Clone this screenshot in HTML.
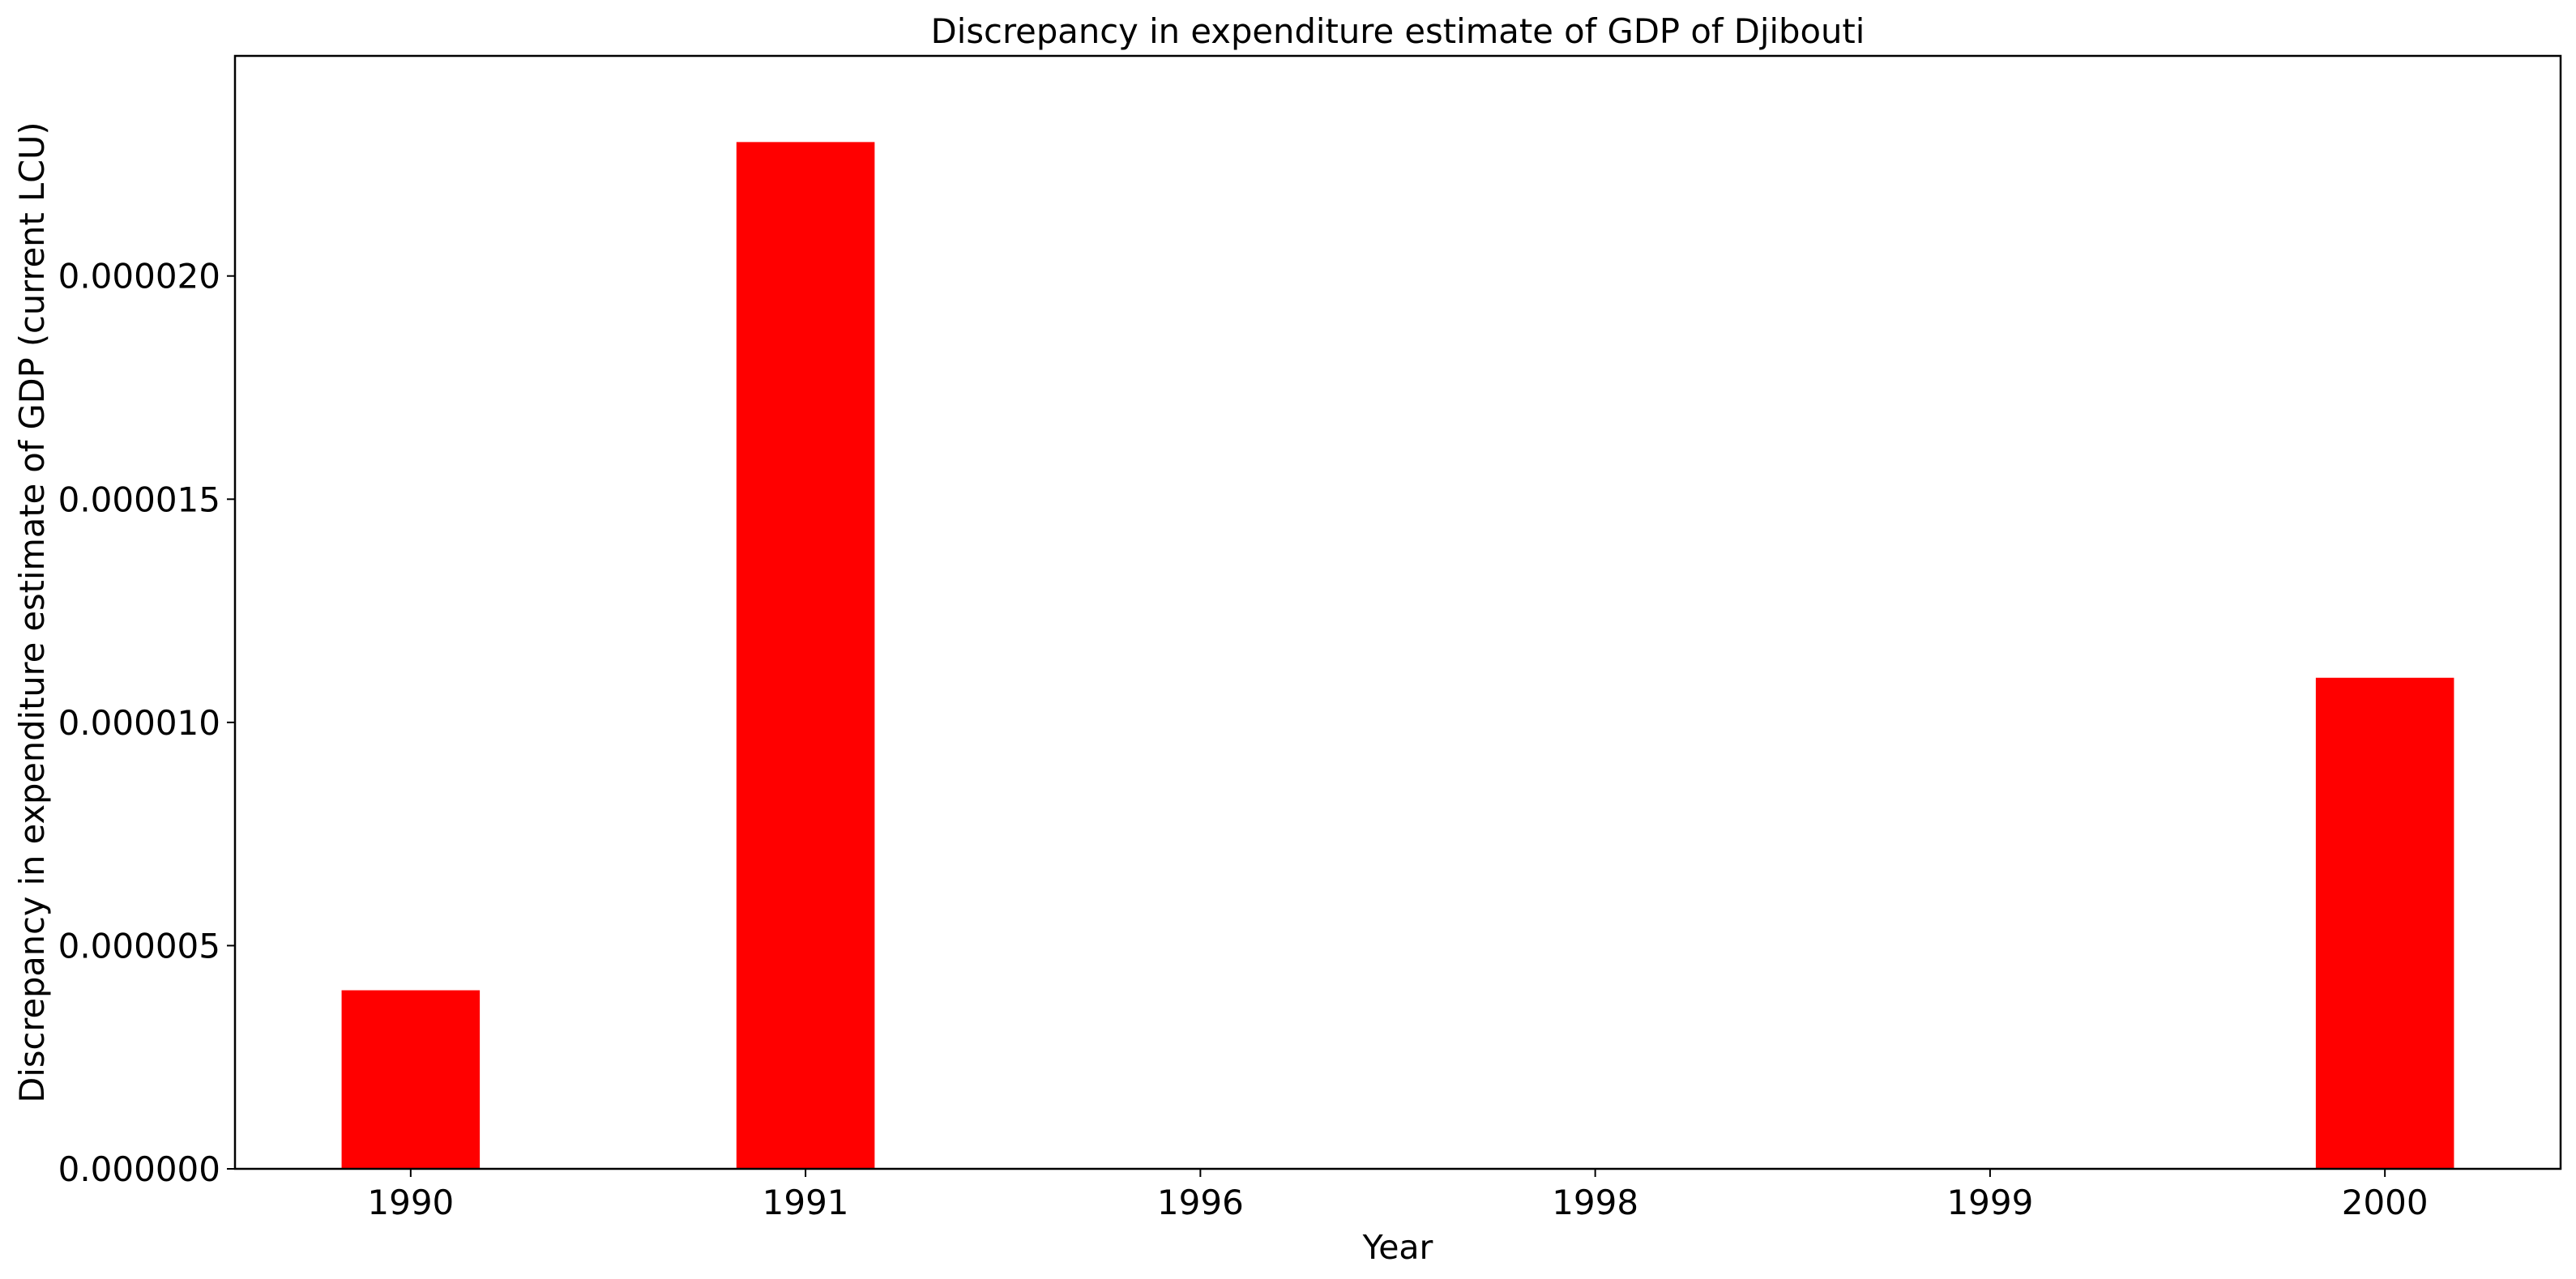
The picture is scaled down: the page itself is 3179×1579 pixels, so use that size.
<!DOCTYPE html>
<html><head><meta charset="utf-8"><style>
html,body{margin:0;padding:0;background:#fff;}
svg{display:block;font-family:"DejaVu Sans","Liberation Sans",sans-serif;}
</style></head><body>
<svg id="chart" width="3179" height="1579" viewBox="0 0 3179 1579">
<rect x="0" y="0" width="3179" height="1579" fill="#fff"/>
<text x="1725" y="53" font-size="41.7" text-anchor="middle">Discrepancy in expenditure estimate of GDP of Djibouti</text>
<g id="bars"></g>
<g id="yticks"></g>
<g id="xticks"></g>
<rect x="290" y="69" width="2870" height="1374" fill="none" stroke="#000" stroke-width="2.5"/>
<text x="1725" y="1554" font-size="41" text-anchor="middle">Year</text>
<text transform="translate(54,756) rotate(-90)" font-size="41.5" text-anchor="middle">Discrepancy in expenditure estimate of GDP (current LCU)</text>
</svg>
<script>
const categories = ["1990","1991","1996","1998","1999","2000"];
const values = [4e-6, 23e-6, 0, 0, 0, 11e-6];
const yTickValues = [0, 5e-6, 10e-6, 15e-6, 20e-6];
const yTickLabels = ["0.000000","0.000005","0.000010","0.000015","0.000020"];

const NS = "http://www.w3.org/2000/svg";
const L = 290, R = 3160, T = 69, B = 1443;
const xMin = -0.445, xMax = categories.length - 1 + 0.445;
const yMin = 0, yMax = 24.93e-6;
const barW = 0.35;
function xScale(i){ return L + (i - xMin) / (xMax - xMin) * (R - L); }
function yScale(v){ return B - (v - yMin) / (yMax - yMin) * (B - T); }

const barsG = document.getElementById('bars');
values.forEach((v, i) => {
  if (!v) return;
  const r = document.createElementNS(NS, 'rect');
  const x0 = xScale(i - barW/2), x1 = xScale(i + barW/2);
  r.setAttribute('x', x0);
  r.setAttribute('width', x1 - x0);
  r.setAttribute('y', yScale(v));
  r.setAttribute('height', yScale(0) - yScale(v));
  r.setAttribute('fill', '#ff0000');
  
  
  barsG.appendChild(r);
});

const yG = document.getElementById('yticks');
yTickValues.forEach((v, i) => {
  const y = yScale(v);
  const ln = document.createElementNS(NS, 'line');
  ln.setAttribute('x1', L - 10); ln.setAttribute('x2', L);
  ln.setAttribute('y1', y); ln.setAttribute('y2', y);
  ln.setAttribute('stroke', '#000'); ln.setAttribute('stroke-width', '2');
  
  
  yG.appendChild(ln);
  const t = document.createElementNS(NS, 'text');
  t.setAttribute('x', L - 18); t.setAttribute('y', y + 15);
  t.setAttribute('font-size', '42'); t.setAttribute('text-anchor', 'end');
  t.textContent = yTickLabels[i];
  
  
  yG.appendChild(t);
});

const xG = document.getElementById('xticks');
categories.forEach((c, i) => {
  const x = xScale(i);
  const ln = document.createElementNS(NS, 'line');
  ln.setAttribute('x1', x); ln.setAttribute('x2', x);
  ln.setAttribute('y1', B); ln.setAttribute('y2', B + 10);
  ln.setAttribute('stroke', '#000'); ln.setAttribute('stroke-width', '2');
  
  
  xG.appendChild(ln);
  const t = document.createElementNS(NS, 'text');
  t.setAttribute('x', x); t.setAttribute('y', 1499);
  t.setAttribute('font-size', '42'); t.setAttribute('text-anchor', 'middle');
  t.textContent = c;
  
  
  xG.appendChild(t);
});
</script>
</body></html>
